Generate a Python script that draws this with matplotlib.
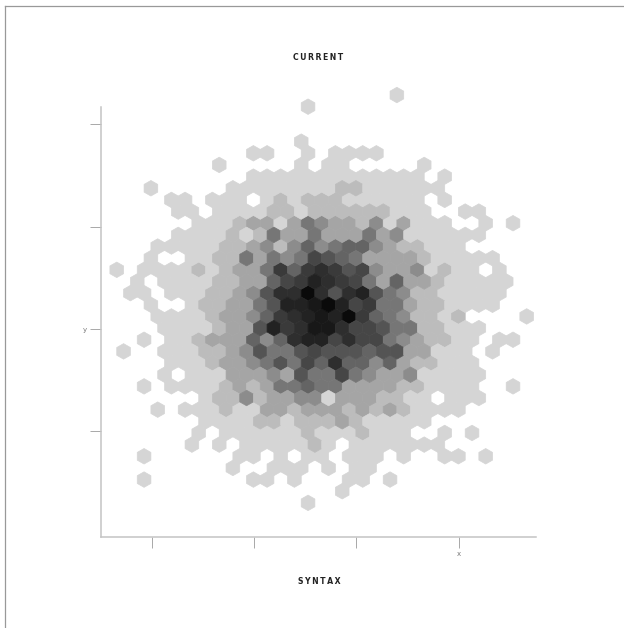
import matplotlib
matplotlib.use("Agg")
import matplotlib.pyplot as plt
from matplotlib.colors import LinearSegmentedColormap
from matplotlib.lines import Line2D

# counts per hex cell, one list per row from the top (0 = empty cell)
r00 = [0]*20 + [1]
r01 = [0]*14 + [1]
r02 = []
r03 = []
r04 = [0]*13 + [1]
r05 = [0]*10 + [1,1,0,0,1,0,1,1,1,1]
r06 = [0]*7 + [1,0,0,0,0,0,1,0,1,1,0,0,0,0,0,1]
r07 = [0]*10 + [1]*13 + [0,1]
r08 = [0,0,1,0,0,0,0,0] + [1]*8 + [2,2] + [1]*6
r09 = [0,0,0,0,1,1,0,1,1,1,0,1,2,1,2,2,2,1,1,1,1,1,1,0,1]
r10 = [0,0,0,0,1,1,0,1,1,1,1,2,2,1,2,2,2,2,2,2,1,1,1,0,0,1,1]
r11 = [0,0,0,0,0,0,1,1,1,2,3,3,1,3,5,4,3,3,2,4,1,3,1,1,1,0,0,1,0,1]
r12 = [0,0,0,0,1,1,1,1,2,1,2,5,3,3,5,3,3,3,5,3,4,1,1,1,1,1,1]
r13 = [0,0,0,1,1,1,1,1,2,2,3,4,2,4,6,4,5,6,6,4,3,2,2,1,1,1]
r14 = [0,0,1,0,0,1,1,2,2,5,3,5,4,5,8,7,6,5,3,3,3,3,2,1,1,1,1,1]
r15 = [1,0,1,1,1,1,2,1,2,3,3,5,9,6,9,10,9,7,8,4,3,3,4,1,2,1,1,0,1]
r16 = [0,1,0,1,1,1,1,2,2,3,3,6,8,9,11,10,9,8,5,3,6,3,3,2,1,1,1,1,1]
r17 = [0,1,1,0,1,1,1,2,2,3,4,7,10,10,13,10,7,10,11,7,5,4,2,2,1,1,1,1,1]
r18 = [0,0,1,0,0,1,2,2,3,3,5,7,11,11,12,13,11,8,9,5,5,3,2,2,1,1,1,1]
r19 = [0,0,0,1,1,1,1,2,3,3,4,6,9,10,11,12,11,13,9,6,5,4,2,2,1,2,0,0,0,0,1]
r20 = [0,0,0,1,1,1,1,2,3,3,7,11,9,10,12,12,10,8,8,7,5,5,2,2,1,1,1]
r21 = [0,0,1,0,1,1,2,3,3,3,6,4,6,10,11,11,8,10,8,8,5,4,3,2,2,1,1,0,1,1]
r22 = [1,0,0,1,1,1,2,2,3,4,7,5,5,7,8,7,7,7,6,7,7,3,3,1,1,1,0,1]
r23 = [0,0,0,0,1,1,1,2,3,3,4,5,7,5,8,6,10,6,6,4,6,3,2,2,1,1,1]
r24 = [0,0,0,1,0,1,1,1,3,3,3,4,3,7,5,5,8,5,4,3,3,4,1,1,1,1,1]
r25 = [0,0,1,0,1,1,1,1,2,3,2,3,5,5,6,5,5,3,3,3,3,2,2,1,1,1,1,0,0,1]
r26 = [0,0,0,0,0,0,1,2,2,4,2,3,3,4,4,1,3,3,3,2,2,1,1,0,1,1,1]
r27 = [0,0,0,1,0,1,1,1,2,1,1,3,3,2,3,3,3,2,3,2,3,2,1,1,1,1]
r28 = [0,0,0,0,0,0,1,1,1,1,2,2,1,2,2,2,3,2,1,1,1,1,1]
r29 = [0,0,0,0,0,0,1,0,1,1,1,1,1,1,2,1,1,1,2,1,1,1,0,0,1,0,1]
r30 = [0,0,0,0,0,1,0,1,0,1,1,1,1,1,2,1,0,1,1,1,1,1,1,1]
r31 = [0,0,1,0,0,0,0,0,0,1,1,0,1,0,1,1,0,1,1,1,0,1,0,0,1,1,0,1]
r32 = [0,0,0,0,0,0,0,0,1,0,0,1,1,1,0,1,0,1,1]
r33 = [0,0,1,0,0,0,0,0,0,0,1,1,0,1,0,0,0,1,1,0,1]
r34 = [0]*16 + [1]
r35 = [0]*14 + [1]
rows = [r00, r01, r02, r03, r04, r05, r06, r07, r08, r09, r10, r11, r12, r13,
        r14, r15, r16, r17, r18, r19, r20, r21, r22, r23, r24, r25, r26, r27,
        r28, r29, r30, r31, r32, r33, r34, r35]

x_ticks = [-1, 0, 1, 2]
y_ticks = [-1, 0, 1, 2]
x_labels = ["", "", "", "x"]
y_labels = ["", "y", "", ""]

# bin layout in data units
x0 = -1.342
bin_w = 0.1336
y_top = 2.287
row_h = 0.1139

xs, ys, cs = [], [], []
for r, row in enumerate(rows):
    for c, n in enumerate(row):
        if n == 0:
            continue
        xs.append(x0 + (c + (0.5 if r % 2 == 0 else 0)) * bin_w)
        ys.append(y_top - r * row_h)
        cs.append(n)

W, H = 624, 628
fig = plt.figure(figsize=(W / 100, H / 100), dpi=100, facecolor="white")
ax = fig.add_axes([101.3 / W, 1 - 536.7 / H, 434.7 / W, 430 / H])

# one grey per count, 1 to 13
greys = LinearSegmentedColormap.from_list("g", [
    "#d5d5d5", "#bcbcbc", "#a4a4a4", "#8c8c8c", "#767676", "#646464", "#545454",
    "#464646", "#3a3a3a", "#2e2e2e", "#222222", "#181818", "#0a0a0a"])
hb = ax.hexbin(xs, ys, C=cs, reduce_C_function=sum, gridsize=(30, 18),
               extent=(x0, x0 + 30 * bin_w, y_top - 35 * row_h, y_top + row_h),
               cmap=greys, vmin=1, vmax=13, linewidths=0.5, edgecolors="face")
hb.set_clip_on(False)

ax.set_xlim(-1.493, 2.757)
ax.set_ylim(-2.030, 2.173)
ax.set_xticks(x_ticks, x_labels)
ax.set_yticks(y_ticks, y_labels)
ax.tick_params(length=8, width=0.7, color="#a8a8a8", labelcolor="#777777",
               labelsize=5, pad=2)
for side in ("top", "right"):
    ax.spines[side].set_visible(False)
for side in ("left", "bottom"):
    ax.spines[side].set_color("#c4c4c4")
    ax.spines[side].set_linewidth(1.1)

fig.text(318.5 / W, 1 - 57 / H, "\u2009".join("CURRENT"), ha="center", va="center",
         fontsize=5.6, fontweight="bold", color="#222222", family="DejaVu Sans")
fig.text(319 / W, 1 - 581 / H, "\u2009".join("SYNTAX"), ha="center", va="center",
         fontsize=5.6, fontweight="bold", color="#222222", family="DejaVu Sans")

# thin border on the top and left of the picture
fig.add_artist(Line2D([4.7 / W, 4.7 / W], [0, 1 - 5.5 / H], color="#999999", lw=0.9))
fig.add_artist(Line2D([4.7 / W, 1], [1 - 5.5 / H, 1 - 5.5 / H], color="#999999", lw=0.9))

fig.savefig("out.png", dpi=100)
